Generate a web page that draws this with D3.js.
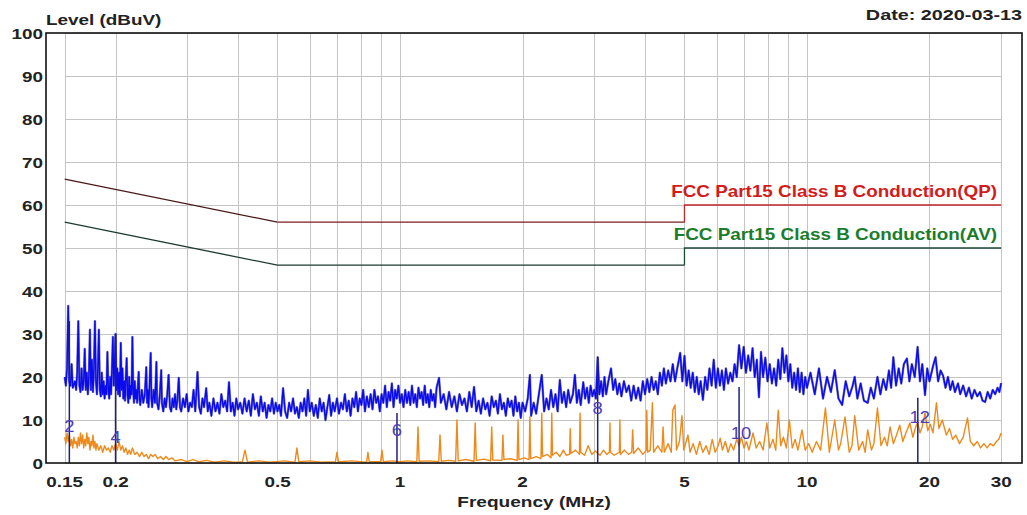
<!DOCTYPE html>
<html><head><meta charset="utf-8">
<script src="https://cdn.jsdelivr.net/npm/d3@7"></script>
<style>
body{margin:0;background:#fff}
svg{display:block;font-family:"Liberation Sans",Arial,Helvetica,sans-serif}
</style>
</head><body>
<svg id="chart" width="1027" height="515"></svg>
<script>
// ---------- data ----------
const yTickValues = [0,10,20,30,40,50,60,70,80,90,100];
const xTickValues = [0.15,0.2,0.5,1,2,5,10,20,30];
const xTickLabels = ["0.15","0.2","0.5","1","2","5","10","20","30"];
const xGridValues = [0.15,0.2,0.3,0.4,0.5,0.6,0.7,0.8,0.9,1,2,3,4,5,6,7,8,9,10,20,30];

const limitFreq = [0.15,0.5,5,5,30];
const qpLimit   = [66,56,56,60,60];
const avLimit   = [56,46,46,50,50];
const qpLimitName = "FCC Part15 Class B Conduction(QP)";
const avLimitName = "FCC Part15 Class B Conduction(AV)";
const dateText = "Date: 2020-03-13";
const yTitle = "Level (dBuV)";
const xTitle = "Frequency (MHz)";

const markerNo    = [2,4,6,8,10,12];
const markerFreq  = [0.154,0.2,0.983,3.06,6.81,18.72];
const markerLevel = [33,30,11.6,24.6,17.7,15.2];
const markerLabelLevel = [8.7,6,7.7,12.8,7,10.7];

// peak (QP) scan, [MHz, dBuV]
const peakScan = [
[0.150,20],[0.151,18],[0.152,22],[0.153,36.5],[0.154,19],[0.155,18],[0.156,23],[0.157,17.5],[0.159,19],[0.160,17],[0.161,21],[0.162,33],[0.163,18],[0.164,16.5],[0.165,22],[0.166,17],[0.167,19],[0.168,26.5],[0.169,17],[0.170,21],[0.171,16],[0.172,20],[0.173,31],[0.174,17],[0.175,24],[0.176,16.5],[0.177,22],[0.178,33],[0.179,19],[0.180,16],[0.181,22],[0.182,31],[0.183,17],[0.184,15.5],[0.185,21],[0.186,16],[0.187,19],[0.188,15],[0.189,18],[0.190,16],[0.191,25.8],[0.192,17],[0.193,15],[0.194,20],[0.195,16],[0.196,22],[0.197,29.3],[0.198,18],[0.199,23],[0.200,30],[0.201,17],[0.202,22],[0.203,16],[0.204,21],[0.205,15.5],[0.206,27.9],[0.207,17],[0.208,22],[0.209,15],[0.210,19],[0.211,14.5],[0.212,20],[0.213,24.4],[0.214,16],[0.215,14],[0.216,20],[0.217,15],[0.218,18],[0.219,16],[0.220,29.3],[0.221,17],[0.222,14],[0.223,19],[0.224,15],[0.225,17],[0.226,14],[0.227,18],[0.228,21.2],[0.229,15],[0.230,13.5],[0.232,17],[0.234,14],[0.236,16],[0.238,22.3],[0.239,14],[0.240,17],[0.241,13],[0.242,16],[0.244,25.6],[0.245,15],[0.246,13],[0.248,17],[0.250,14],[0.252,23.5],[0.253,14],[0.255,12.5],[0.257,16],[0.259,21.6],[0.260,14],[0.262,12],[0.264,15],[0.266,13],[0.268,16],[0.270,20.5],[0.272,13],[0.274,12],[0.276,15],[0.278,13],[0.280,16],[0.282,12.5],[0.284,15],[0.286,19.8],[0.288,13],[0.290,12],[0.293,15],[0.296,13],[0.299,16],[0.302,12],[0.305,14],[0.308,13],[0.311,17],[0.314,12],[0.318,21.2],[0.321,13],[0.324,11.5],[0.327,15],[0.330,13],[0.334,17.4],[0.337,12],[0.340,14],[0.344,11],[0.348,15],[0.352,12],[0.356,14],[0.360,11.5],[0.364,16],[0.368,13],[0.372,14.5],[0.376,12],[0.380,18.8],[0.384,12],[0.388,14],[0.392,11],[0.396,15],[0.400,12.5],
[0.405,14],[0.410,11.5],[0.415,15],[0.420,12],[0.425,14.5],[0.430,11],[0.435,16],[0.440,12.5],[0.445,14],[0.450,11],[0.455,15.5],[0.460,12],[0.465,14],[0.470,10.5],[0.475,13.5],[0.480,12],[0.485,15],[0.490,11.5],[0.495,14],[0.500,12],[0.505,13.5],[0.510,11],[0.516,17.4],[0.522,12],[0.528,10.5],[0.534,14],[0.540,12],[0.546,15],[0.552,11.5],[0.558,13],[0.564,10.5],[0.570,14],[0.576,12],[0.582,15],[0.588,11],[0.594,17],[0.600,12],[0.607,14],[0.614,11],[0.621,13.5],[0.628,10.5],[0.635,15],[0.642,12],[0.649,14],[0.656,10],[0.663,13],[0.670,15.8],[0.677,11],[0.684,14],[0.691,12],[0.700,15],[0.708,11.5],[0.716,14],[0.724,12.5],[0.732,16],[0.740,12],[0.748,14.5],[0.756,11],[0.764,15],[0.772,13],[0.780,16.5],[0.788,12],[0.796,15],[0.804,13.5],[0.812,17],[0.820,12],[0.829,15.5],[0.838,13],[0.847,16],[0.856,12.5],[0.865,17],[0.874,14],[0.883,15.5],[0.892,12],[0.901,16],[0.910,14],[0.919,18],[0.928,13],[0.937,16.5],[0.946,14.5],[0.955,18.5],[0.964,13],[0.973,17],[0.982,15],[0.991,18],[1.000,14],
[1.01,16],[1.02,13],[1.03,17],[1.04,14],[1.05,16.5],[1.06,13.5],[1.07,18],[1.08,14],[1.09,16],[1.10,13],[1.11,17.5],[1.12,15],[1.13,16.5],[1.14,13.5],[1.15,18],[1.16,14],[1.17,16],[1.18,13],[1.19,17],[1.20,14.5],[1.21,16],[1.22,13],[1.23,17.5],[1.247,19.8],[1.26,14],[1.28,16],[1.30,12.5],[1.32,16.5],[1.34,13],[1.36,15.5],[1.38,12],[1.40,16],[1.42,13.5],[1.44,15],[1.46,12],[1.48,16.5],[1.50,13],[1.52,17.7],[1.54,12],[1.56,14.5],[1.58,11.5],[1.60,15],[1.62,12.5],[1.64,14],[1.66,11],[1.68,15.5],[1.70,13],[1.72,14.5],[1.74,11.5],[1.76,16],[1.78,12.5],[1.80,14],[1.82,11],[1.84,15],[1.86,13],[1.88,14.5],[1.90,11],[1.92,15.5],[1.94,12],[1.96,14],[1.98,10.5],[2.00,14],[2.03,12],[2.06,15],[2.085,20.5],[2.10,11],[2.13,14],[2.16,11.5],[2.19,15.5],[2.23,20.5],[2.26,12],[2.29,15],[2.32,12.5],[2.35,17],[2.38,13],[2.41,16],[2.44,12],[2.47,19.3],[2.50,14],[2.53,16.5],[2.56,13],[2.59,17],[2.62,14],[2.66,16],[2.69,20.5],[2.72,14],[2.75,17],[2.78,13.5],[2.82,18.8],[2.85,15],[2.88,17.5],[2.91,14],[2.94,18],[2.97,15.5],[3.00,17],[3.03,15],[3.06,24.6],[3.09,16],[3.12,19],[3.15,15.5],[3.18,20],[3.21,16],[3.25,19],[3.30,22],[3.34,17],[3.38,19.5],[3.42,16],[3.46,18.5],[3.50,15.5],[3.55,19],[3.60,16.5],[3.65,18],
[3.70,14.5],[3.75,18],[3.80,15],[3.85,17.5],[3.90,14.5],[3.95,19],[4.00,16],[4.05,19.5],[4.10,16.5],[4.15,20],[4.20,17],[4.25,19],[4.30,16],[4.35,21],[4.40,18],[4.45,22],[4.50,18.5],[4.56,21.5],[4.62,19],[4.68,23],[4.74,19],[4.80,22],[4.88,25.6],[4.94,19],[5.00,24.9],[5.06,18],[5.12,21.5],[5.18,17.5],[5.24,21],[5.30,16.5],[5.36,20],[5.42,16],[5.48,19],[5.55,14.7],[5.62,20],[5.69,17],[5.76,22],[5.83,18],[5.90,24],[5.97,17.5],[6.04,22],[6.11,18],[6.18,21.5],[6.25,17],[6.32,22],[6.40,18.5],[6.48,21],[6.56,19],[6.64,23],[6.72,20],[6.81,27.4],[6.90,22],[6.99,27],[7.08,21],[7.17,25],[7.26,21.5],[7.35,26.7],[7.44,20],[7.53,24],[7.62,15.3],[7.71,25.8],[7.80,20],[7.90,24.5],[8.00,19],[8.10,23],[8.20,18.5],[8.30,22],[8.40,18],[8.50,24],[8.60,19.5],[8.70,26.7],[8.80,21],[8.90,25],[9.00,19],[9.10,23],[9.20,17.5],[9.30,21],[9.40,17],[9.50,22],[9.60,16.5],[9.70,21],[9.80,16],[9.90,20],[10.00,17.5],
[10.2,21],[10.45,16],[10.7,22],[10.95,15],[11.2,20],[11.45,16.5],[11.7,21.6],[11.95,15],[12.2,13.5],[12.45,19],[12.7,15.5],[12.95,18],[13.1,20],[13.3,15],[13.55,18.5],[13.8,14.5],[14.1,14],[14.35,17.5],[14.6,15],[14.9,20],[15.15,16],[15.4,19.5],[15.65,17],[15.9,21.5],[16.1,17.5],[16.3,24.6],[16.55,18],[16.8,22],[17.05,18.5],[17.3,23],[17.6,24.3],[17.85,19],[18.1,23],[18.4,20],[18.7,27],[18.95,19],[19.2,23],[19.5,15.8],[19.75,22],[20.0,19],[20.4,22.5],[20.7,24.6],[21.0,19],[21.3,21.5],[21.6,20.3],[21.9,17.5],[22.2,20],[22.5,17],[22.8,19],[23.1,16.5],[23.5,18.5],[23.8,16],[24.2,18],[24.6,15.5],[25.0,17.5],[25.4,15],[25.8,17],[26.2,15.5],[26.6,16.5],[27.0,14.5],[27.4,14.2],[27.8,16.5],[28.2,15],[28.6,17],[29.0,16],[29.4,17.5],[29.7,16.5],[30.0,18.6]
];

// average scan, [MHz, dBuV]
const avgScan = [
[0.150,6],[0.151,4.5],[0.152,7],[0.153,5],[0.154,6.5],[0.155,4],[0.156,5.5],[0.157,3.5],[0.158,6],[0.159,4.5],[0.160,5],[0.161,3.5],[0.162,6],[0.163,4],[0.164,7],[0.165,4.5],[0.166,6.5],[0.167,3.5],[0.168,5.5],[0.169,4],[0.170,7],[0.171,4.5],[0.172,6],[0.173,3],[0.174,5],[0.175,4],[0.176,6.5],[0.177,3.5],[0.178,5],[0.179,3],[0.180,4.5],[0.182,3],[0.184,4],[0.186,2.5],[0.188,4],[0.190,3],[0.192,3.5],[0.194,2.5],[0.196,4],[0.198,3],[0.200,4.5],[0.202,3],[0.204,5],[0.206,3],[0.208,4],[0.210,2.5],[0.212,3.5],[0.214,2],[0.216,3],[0.218,2],[0.220,3.5],[0.223,2],[0.226,2.5],[0.229,1.5],[0.232,2.5],[0.235,1.5],[0.238,2],[0.241,1],[0.244,2],[0.247,1.5],[0.250,2],[0.254,1],[0.258,1.5],[0.262,0.8],[0.266,1.5],[0.270,0.8],[0.275,1.2],[0.280,0.5],[0.290,0.8],[0.300,0.3],[0.310,0.8],[0.320,0.3],[0.335,0.6],[0.350,0.2],[0.370,0.5],[0.390,0.2],
[0.400,0.2],[0.410,0.3],[0.416,3],[0.422,0.2],[0.450,0.5],[0.480,0.2],[0.520,0.5],[0.552,0.2],[0.558,3.5],[0.564,0.3],[0.600,0.5],[0.640,0.2],[0.694,0.3],[0.700,2.5],[0.706,0.3],[0.760,0.5],[0.828,0.2],[0.834,2.5],[0.840,0.3],[0.896,0.3],[0.903,3],[0.910,0.3],[0.960,0.5],[1.000,0.3],[1.040,0.5],[1.100,0.3],[1.107,8.4],[1.114,0.4],[1.180,0.5],[1.245,0.3],[1.254,6.5],[1.263,0.4],[1.320,0.6],[1.370,0.4],[1.380,10],[1.390,0.5],[1.450,0.8],[1.520,0.4],[1.530,9.3],[1.540,0.6],[1.610,0.9],[1.670,0.5],[1.680,8.4],[1.690,0.7],[1.780,0.6],[1.790,6.5],[1.800,0.8],[1.870,1],[1.940,0.6],[1.950,10],[1.960,0.8],[2.020,1.2],[2.075,0.8],[2.085,10.7],[2.095,1],[2.160,1.5],[2.220,1],[2.230,11.6],[2.240,1.5],[2.300,2],[2.350,1.2],[2.360,11.6],[2.370,1.8],[2.420,2.5],[2.470,1.5],[2.520,3],[2.560,1.8],[2.610,2],[2.620,8],[2.630,2.2],[2.700,3],[2.760,2],[2.770,11.6],[2.780,2.5],[2.840,1.8],[2.900,4],[2.960,2],[3.020,2.8],[3.100,1.8],[3.160,3],[3.220,2],[3.270,2.5],[3.280,9.3],[3.290,2.5],[3.360,1.8],[3.460,2.5],[3.470,10],[3.480,2],[3.560,3],[3.640,2],[3.710,2.5],[3.730,7.7],[3.750,2.2],[3.850,3.5],[3.950,2],[4.030,3],[4.040,12.3],[4.060,2.5],[4.120,3],[4.170,14],[4.200,2.5],[4.300,4],[4.400,2.5],[4.430,8.4],[4.460,2.5],[4.560,4.5],[4.640,2.5],[4.680,12.3],[4.740,13.5],[4.780,3],[4.860,5],[4.930,11],[4.980,3],[5.100,6.5],[5.160,2.5],[5.250,4.5],[5.350,2],[5.450,5],[5.550,2.5],[5.650,4],[5.750,2],[5.850,5.5],[5.950,2.5],[6.050,4],[6.120,5.8],[6.200,3],[6.300,5],[6.400,2.5],[6.500,4.5],[6.600,3],[6.720,5.5],[6.810,4],[6.900,6],[7.000,3.5],[7.100,5],[7.200,3],[7.370,7],[7.500,3.5],[7.650,5],[7.800,3],[7.970,9.3],[8.100,3.5],[8.250,5.5],[8.380,3],[8.500,12.3],[8.620,4],[8.750,6],[8.900,3.5],[9.050,10],[9.200,3.5],[9.350,5.5],[9.500,3],[9.720,7.7],[9.900,3],
[10.10,4.5],[10.30,2.5],[10.55,5],[10.80,3],[11.10,12.8],[11.35,2.5],[11.70,10],[11.95,3],[12.10,4.5],[12.40,10.7],[12.70,2.5],[12.90,4],[13.10,11],[13.40,3],[13.70,5],[13.90,2.5],[14.10,7.7],[14.40,3],[14.60,4.5],[14.90,12.8],[15.20,4],[15.50,6],[15.75,4],[16.00,8.4],[16.30,4.5],[16.60,6.5],[16.90,8.8],[17.20,5],[17.50,7],[17.90,9.3],[18.20,6],[18.50,8.4],[18.70,9.5],[18.95,7],[19.20,8.5],[19.50,11.6],[19.80,7.5],[20.10,9],[20.40,7],[20.80,14],[21.10,8],[21.50,10],[22.00,6.5],[22.40,8],[22.80,5.5],[23.20,6.5],[23.70,4.5],[24.20,6],[24.80,10.5],[25.20,5],[25.70,4],[26.20,5],[26.70,3.5],[27.20,4.5],[27.70,3.5],[28.20,4.5],[28.70,4],[29.20,5],[29.60,5.5],[30.00,7]
];

// ---------- drawing ----------
const W = 1027, H = 515;
const plot = {left:46, right:1022, top:33, bottom:463};
const svg = d3.select("#chart");

const x = d3.scaleLog().domain([0.13494, 33.755]).range([plot.left, plot.right]);
const y = d3.scaleLinear().domain([0,100]).range([plot.bottom, plot.top]);

// text helper: the reference glyphs are horizontally widened
function label(g, px, py, str, o) {
  return g.append("text")
    .attr("transform", `translate(${px},${py}) scale(${o.sx||1.26},1)`)
    .attr("text-anchor", o.anchor||"start")
    .attr("font-size", o.size||15)
    .attr("font-weight", o.weight||"bold")
    .attr("fill", o.fill||"#222")
    .text(str);
}

svg.append("rect").attr("width",W).attr("height",H).attr("fill","#fff");

// grid
const grid = svg.append("g").attr("stroke","#c4c4c4").attr("stroke-width",1).attr("shape-rendering","crispEdges");
grid.selectAll("line.v").data(xGridValues).join("line")
  .attr("x1",d=>Math.round(x(d))+0.5).attr("x2",d=>Math.round(x(d))+0.5)
  .attr("y1",y(100)).attr("y2",y(0));
grid.selectAll("line.h").data(yTickValues).join("line")
  .attr("x1",x(0.15)).attr("x2",x(30))
  .attr("y1",d=>Math.round(y(d))+0.5).attr("y2",d=>Math.round(y(d))+0.5);

svg.append("clipPath").attr("id","clip").append("rect")
  .attr("x",plot.left).attr("y",plot.top).attr("width",plot.right-plot.left).attr("height",plot.bottom-plot.top);

const line = d3.line().x(d=>x(d[0])).y(d=>y(d[1]));
const traces = svg.append("g").attr("clip-path","url(#clip)");

// limit lines
const qpPts = limitFreq.map((f,i)=>[f,qpLimit[i]]);
const avPts = limitFreq.map((f,i)=>[f,avLimit[i]]);
traces.append("path").datum(qpPts.slice(0,2)).attr("d",line).attr("fill","none").attr("stroke","#4a1818").attr("stroke-width",1.3);
traces.append("path").datum(qpPts.slice(1,3)).attr("d",line).attr("fill","none").attr("stroke","#7a1c1c").attr("stroke-width",1.3);
traces.append("path").datum(qpPts.slice(2)).attr("d",line).attr("fill","none").attr("stroke","#c02828").attr("stroke-width",1.3);
traces.append("path").datum(avPts.slice(0,3)).attr("d",line).attr("fill","none").attr("stroke","#1c3a30").attr("stroke-width",1.3);
traces.append("path").datum(avPts.slice(2)).attr("d",line).attr("fill","none").attr("stroke","#1d4a34").attr("stroke-width",1.3);

// average trace
traces.append("path").datum(avgScan).attr("d",line).attr("fill","none")
  .attr("stroke","#ee8a1c").attr("stroke-width",1.4).attr("stroke-linejoin","round");

// peak trace
traces.append("path").datum(peakScan).attr("d",line).attr("fill","none")
  .attr("stroke","#141496").attr("stroke-width",2.4).attr("stroke-linejoin","round").attr("opacity",0.55);
traces.append("path").datum(peakScan).attr("d",line).attr("fill","none")
  .attr("stroke","#0a0af0").attr("stroke-width",1.4).attr("stroke-linejoin","round");

// markers
const markers = markerNo.map((n,i)=>({n, f:markerFreq[i], lv:markerLevel[i], lab:markerLabelLevel[i]}));
traces.selectAll("line.mk").data(markers).join("line")
  .attr("x1",d=>x(d.f)).attr("x2",d=>x(d.f)).attr("y1",y(0)).attr("y2",d=>y(d.lv))
  .attr("stroke","#20207a").attr("stroke-width",1.5);
const mkG = svg.append("g");
markers.forEach(d => {
  label(mkG, x(d.f) + (d.n>=10?2:0), y(d.lab)+6, d.n, {anchor:"middle", size:16, weight:"normal", fill:"#4a3cb8", sx:1.15});
});

// frame
svg.append("rect").attr("x",plot.left).attr("y",plot.top)
  .attr("width",plot.right-plot.left).attr("height",plot.bottom-plot.top)
  .attr("fill","none").attr("stroke","#111").attr("stroke-width",1.6);

// tick labels
const axG = svg.append("g");
yTickValues.forEach(v => label(axG, plot.left-3, y(v)+5.5, v, {anchor:"end"}));
xTickValues.forEach((v,i) => label(axG, x(v), 487, xTickLabels[i], {anchor:"middle"}));

// titles
label(svg, plot.left, 25, yTitle, {});
label(svg, plot.right, 20, dateText, {anchor:"end", sx:1.32});
label(svg, 534, 507, xTitle, {anchor:"middle", size:15.5, sx:1.23});

// limit labels
label(svg, x(30)-4, y(60)-8, qpLimitName, {anchor:"end", size:16, fill:"#d21c1c", sx:1.18});
label(svg, x(30)-4, y(50)-8, avLimitName, {anchor:"end", size:16, fill:"#1b7d2c", sx:1.18});
</script>
</body></html>
